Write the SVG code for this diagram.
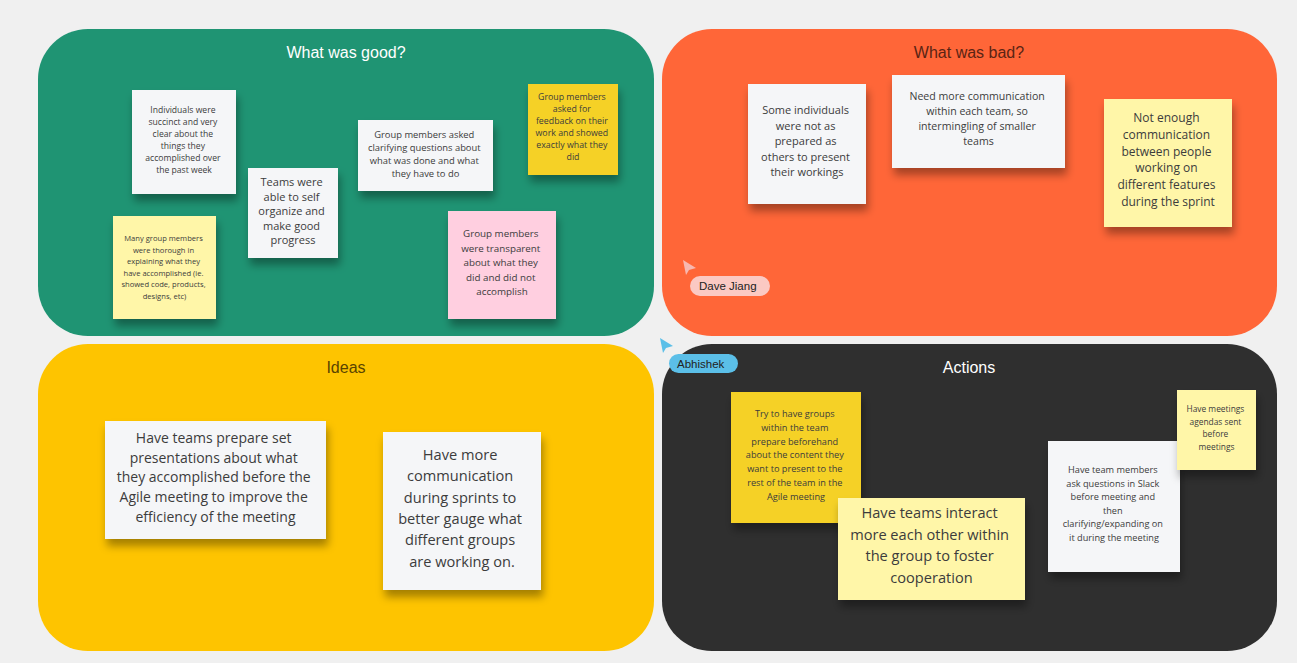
<svg xmlns="http://www.w3.org/2000/svg" width="1297" height="663" viewBox="0 0 1297 663">
  <defs>
    <filter id="stickyShadow" x="-20%" y="-20%" width="140%" height="150%">
      <feDropShadow dx="2" dy="7" stdDeviation="4" flood-color="#000" flood-opacity="0.35"/>
    </filter>
    <style>
      .panel-title { font-family: "Liberation Sans", Arial, sans-serif; font-size: 16px; text-anchor: middle; }
      .note text { font-family: "Open Sans", "Noto Sans", sans-serif; fill: #3c3c3c; text-anchor: middle; }
      .note rect { filter: url(#stickyShadow); }
      .white { fill: #f5f6f8; }
      .pale { fill: #fff6a8; }
      .gold { fill: #f5d128; }
      .pink { fill: #ffcfe0; }
      .cursor-label { font-family: "Liberation Sans", Arial, sans-serif; font-size: 11.5px; fill: #222; }
    </style>
  </defs>

  <rect width="1297" height="663" fill="#f0f0f0"/>

  <!-- Retro board quadrants -->
  <g id="panel-good">
    <rect x="38" y="29" width="616" height="307" rx="50" fill="#1f9473"/>
    <text class="panel-title" x="346" y="58" fill="#ffffff">What was good?</text>
  </g>
  <g id="panel-bad">
    <rect x="662" y="29" width="615" height="307" rx="50" fill="#ff6638"/>
    <text class="panel-title" x="969" y="58" fill="#5a2414">What was bad?</text>
  </g>
  <g id="panel-ideas">
    <rect x="38" y="344" width="616" height="307" rx="50" fill="#fec400"/>
    <text class="panel-title" x="346" y="373" fill="#5a4300">Ideas</text>
  </g>
  <g id="panel-actions">
    <rect x="662" y="344" width="615" height="307" rx="50" fill="#2f2f2f"/>
    <text class="panel-title" x="969" y="373" fill="#ffffff">Actions</text>
  </g>

  <!-- What was good? -->
  <g id="note-individuals" class="note">
    <rect class="white" x="132" y="90" width="104" height="104"/>
    <text font-size="8.6px">
      <tspan x="184" y="113">Individuals were</tspan>
      <tspan x="184" y="125">succinct and very</tspan>
      <tspan x="184" y="137">clear about the</tspan>
      <tspan x="184" y="149">things they</tspan>
      <tspan x="184" y="161">accomplished over</tspan>
      <tspan x="184" y="173">the past week</tspan>
    </text>
  </g>
  <g id="note-self-organize" class="note">
    <rect class="white" x="248" y="168" width="90" height="90"/>
    <text font-size="11px">
      <tspan x="293" y="186">Teams were</tspan>
      <tspan x="293" y="200.5">able to self</tspan>
      <tspan x="293" y="215">organize and</tspan>
      <tspan x="293" y="229.5">make good</tspan>
      <tspan x="293" y="244">progress</tspan>
    </text>
  </g>
  <g id="note-thorough" class="note">
    <rect class="pale" x="113" y="216" width="103" height="103"/>
    <text font-size="7.6px">
      <tspan x="164.5" y="241">Many group members</tspan>
      <tspan x="164.5" y="252.5">were thorough in</tspan>
      <tspan x="164.5" y="264">explaining what they</tspan>
      <tspan x="164.5" y="275.5">have accomplished (ie.</tspan>
      <tspan x="164.5" y="287">showed code, products,</tspan>
      <tspan x="164.5" y="298.5">designs, etc)</tspan>
    </text>
  </g>
  <g id="note-clarifying" class="note">
    <rect class="white" x="358" y="120" width="135" height="71"/>
    <text font-size="9.4px">
      <tspan x="425.5" y="138">Group members asked</tspan>
      <tspan x="425.5" y="151">clarifying questions about</tspan>
      <tspan x="425.5" y="164">what was done and what</tspan>
      <tspan x="425.5" y="177">they have to do</tspan>
    </text>
  </g>
  <g id="note-feedback" class="note">
    <rect class="gold" x="528" y="84" width="90" height="91"/>
    <text font-size="8.8px">
      <tspan x="573" y="100">Group members</tspan>
      <tspan x="573" y="112">asked for</tspan>
      <tspan x="573" y="124">feedback on their</tspan>
      <tspan x="573" y="136">work and showed</tspan>
      <tspan x="573" y="148">exactly what they</tspan>
      <tspan x="573" y="160">did</tspan>
    </text>
  </g>
  <g id="note-transparent" class="note">
    <rect class="pink" x="448" y="211" width="108" height="108"/>
    <text font-size="9.8px">
      <tspan x="502" y="237">Group members</tspan>
      <tspan x="502" y="251.5">were transparent</tspan>
      <tspan x="502" y="266">about what they</tspan>
      <tspan x="502" y="280.5">did and did not</tspan>
      <tspan x="502" y="295">accomplish</tspan>
    </text>
  </g>

  <!-- What was bad? -->
  <g id="note-prepared" class="note">
    <rect class="white" x="748" y="84" width="118" height="120"/>
    <text font-size="11px">
      <tspan x="807" y="114">Some individuals</tspan>
      <tspan x="807" y="129.5">were not as</tspan>
      <tspan x="807" y="145">prepared as</tspan>
      <tspan x="807" y="160.5">others to present</tspan>
      <tspan x="807" y="176">their workings</tspan>
    </text>
  </g>
  <g id="note-within-team" class="note">
    <rect class="white" x="892" y="75" width="173" height="93"/>
    <text font-size="10.6px">
      <tspan x="978.5" y="100">Need more communication</tspan>
      <tspan x="978.5" y="115">within each team, so</tspan>
      <tspan x="978.5" y="130">intermingling of smaller</tspan>
      <tspan x="978.5" y="145">teams</tspan>
    </text>
  </g>
  <g id="note-not-enough" class="note">
    <rect class="pale" x="1104" y="99" width="128" height="128"/>
    <text font-size="12px">
      <tspan x="1168" y="122">Not enough</tspan>
      <tspan x="1168" y="138.8">communication</tspan>
      <tspan x="1168" y="155.6">between people</tspan>
      <tspan x="1168" y="172.4">working on</tspan>
      <tspan x="1168" y="189.2">different features</tspan>
      <tspan x="1168" y="206">during the sprint</tspan>
    </text>
  </g>

  <!-- Ideas -->
  <g id="note-presentations" class="note">
    <rect class="white" x="105" y="421" width="221" height="118"/>
    <text font-size="14px">
      <tspan x="215.5" y="443">Have teams prepare set</tspan>
      <tspan x="215.5" y="462.7">presentations about what</tspan>
      <tspan x="215.5" y="482.4">they accomplished before the</tspan>
      <tspan x="215.5" y="502.1">Agile meeting to improve the</tspan>
      <tspan x="215.5" y="521.8">efficiency of the meeting</tspan>
    </text>
  </g>
  <g id="note-sprint-communication" class="note">
    <rect class="white" x="383" y="432" width="158" height="158"/>
    <text font-size="14.6px">
      <tspan x="462" y="460">Have more</tspan>
      <tspan x="462" y="481.3">communication</tspan>
      <tspan x="462" y="502.6">during sprints to</tspan>
      <tspan x="462" y="523.9">better gauge what</tspan>
      <tspan x="462" y="545.2">different groups</tspan>
      <tspan x="462" y="566.5">are working on.</tspan>
    </text>
  </g>

  <!-- Actions -->
  <g id="note-prepare-groups" class="note">
    <rect class="gold" x="731" y="392" width="130" height="131"/>
    <text font-size="9.2px">
      <tspan x="796" y="417">Try to have groups</tspan>
      <tspan x="796" y="430.8">within the team</tspan>
      <tspan x="796" y="444.6">prepare beforehand</tspan>
      <tspan x="796" y="458.4">about the content they</tspan>
      <tspan x="796" y="472.2">want to present to the</tspan>
      <tspan x="796" y="486">rest of the team in the</tspan>
      <tspan x="796" y="499.8">Agile meeting</tspan>
    </text>
  </g>
  <g id="note-interact" class="note">
    <rect class="pale" x="838" y="498" width="187" height="102"/>
    <text font-size="14.6px">
      <tspan x="931.5" y="518">Have teams interact</tspan>
      <tspan x="931.5" y="539.5">more each other within</tspan>
      <tspan x="931.5" y="561">the group to foster</tspan>
      <tspan x="931.5" y="582.5">cooperation</tspan>
    </text>
  </g>
  <g id="note-slack" class="note">
    <rect class="white" x="1048" y="441" width="132" height="131"/>
    <text font-size="9.2px">
      <tspan x="1114" y="473">Have team members</tspan>
      <tspan x="1114" y="486.6">ask questions in Slack</tspan>
      <tspan x="1114" y="500.2">before meeting and</tspan>
      <tspan x="1114" y="513.8">then</tspan>
      <tspan x="1114" y="527.4">clarifying/expanding on</tspan>
      <tspan x="1114" y="541">it during the meeting</tspan>
    </text>
  </g>
  <g id="note-agendas" class="note">
    <rect class="pale" x="1177" y="390" width="79" height="80"/>
    <text font-size="8.4px">
      <tspan x="1216.5" y="412">Have meetings</tspan>
      <tspan x="1216.5" y="424.5">agendas sent</tspan>
      <tspan x="1216.5" y="437">before</tspan>
      <tspan x="1216.5" y="449.5">meetings</tspan>
    </text>
  </g>

  <!-- Collaborator cursors -->
  <g id="cursor-dave">
    <path d="M683 260 L696 268 L689 270 L686 275 Z" fill="#f7b8b0"/>
    <rect x="690" y="276" width="80" height="20" rx="10" fill="#fbc9c3"/>
    <text class="cursor-label" x="699" y="290">Dave Jiang</text>
  </g>
  <g id="cursor-abhishek">
    <path d="M660 338 L673 346 L666 348 L663 353 Z" fill="#5bbfe8"/>
    <rect x="669" y="354" width="69" height="19" rx="9.5" fill="#5bbfe8"/>
    <text class="cursor-label" x="677" y="368">Abhishek</text>
  </g>
</svg>
